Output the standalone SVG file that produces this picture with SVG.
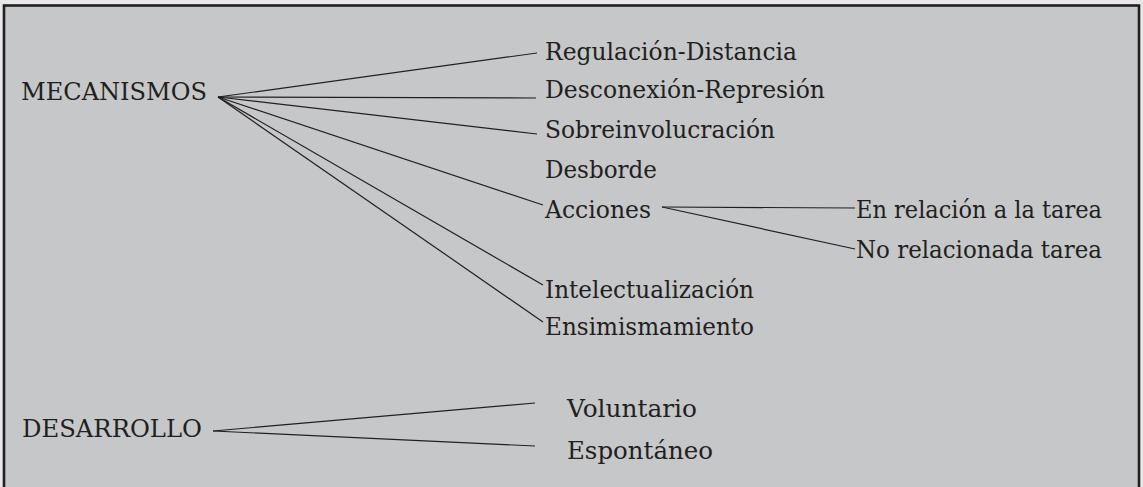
<svg xmlns="http://www.w3.org/2000/svg" width="1143" height="487" viewBox="0 0 1143 487">
<style>
.t{font-family:"DejaVu Serif","Liberation Serif",serif;font-size:25px;fill:#231f20}
.c line{stroke:#231f20;stroke-width:1.2;fill:none}
</style>
<rect x="0" y="0" width="1143" height="487" fill="#e8e8e8"/>
<rect x="4" y="5.5" width="1135" height="490" fill="#c6c7c9" stroke="#231f20" stroke-width="2.6"/>
<g id="connectors" class="c">
<line x1="218" y1="97" x2="537" y2="53"/>
<line x1="218" y1="97" x2="536" y2="98"/>
<line x1="218" y1="97" x2="537" y2="134"/>
<line x1="218" y1="97" x2="543" y2="205"/>
<line x1="218" y1="97" x2="543" y2="285"/>
<line x1="218" y1="97" x2="543" y2="322"/>
<line x1="662" y1="207" x2="855" y2="208"/>
<line x1="662" y1="207" x2="855" y2="249"/>
<line x1="213" y1="431" x2="535" y2="403"/>
<line x1="213" y1="431" x2="535" y2="446"/>
</g>
<g id="mecanismos"><text class="t" x="21" y="100" textLength="186" lengthAdjust="spacingAndGlyphs">MECANISMOS</text></g>
<g id="regulacion"><text class="t" x="545" y="60" textLength="252" lengthAdjust="spacingAndGlyphs">Regulación-Distancia</text></g>
<g id="desconexion"><text class="t" x="545" y="98" textLength="280" lengthAdjust="spacingAndGlyphs">Desconexión-Represión</text></g>
<g id="sobreinvolucracion"><text class="t" x="545" y="138" textLength="230" lengthAdjust="spacingAndGlyphs">Sobreinvolucración</text></g>
<g id="desborde"><text class="t" x="545" y="178" textLength="112" lengthAdjust="spacingAndGlyphs">Desborde</text></g>
<g id="acciones"><text class="t" x="545" y="218" textLength="106" lengthAdjust="spacingAndGlyphs">Acciones</text></g>
<g id="intelectualizacion"><text class="t" x="545" y="298" textLength="209" lengthAdjust="spacingAndGlyphs">Intelectualización</text></g>
<g id="ensimismamiento"><text class="t" x="545" y="335" textLength="209" lengthAdjust="spacingAndGlyphs">Ensimismamiento</text></g>
<g id="enrelacion"><text class="t" x="856" y="218" textLength="246" lengthAdjust="spacingAndGlyphs">En relación a la tarea</text></g>
<g id="norelacionada"><text class="t" x="856" y="258" textLength="246" lengthAdjust="spacingAndGlyphs">No relacionada tarea</text></g>
<g id="desarrollo"><text class="t" x="22" y="437" textLength="180" lengthAdjust="spacingAndGlyphs">DESARROLLO</text></g>
<g id="voluntario"><text class="t" x="567" y="417" textLength="130" lengthAdjust="spacingAndGlyphs">Voluntario</text></g>
<g id="espontaneo"><text class="t" x="567" y="459" textLength="146" lengthAdjust="spacingAndGlyphs">Espontáneo</text></g>
</svg>
